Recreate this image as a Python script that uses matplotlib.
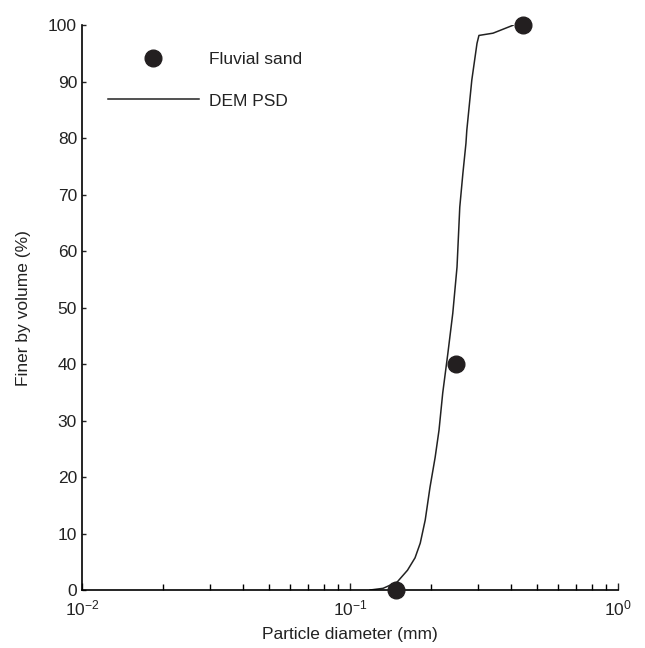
import matplotlib
matplotlib.use('Agg')
import matplotlib.pyplot as plt
from matplotlib.ticker import LogLocator, NullFormatter

plt.rcParams['font.family'] = ['Liberation Sans', 'DejaVu Sans']

# measured sand points
sand_d = [0.149, 0.249, 0.442]
sand_pct = [0, 40, 100]

# DEM particle size distribution
dem_d = [0.119, 0.133, 0.150, 0.164, 0.175, 0.183, 0.191, 0.199, 0.208, 0.215,
         0.222, 0.232, 0.242, 0.251, 0.257, 0.264, 0.271, 0.273, 0.285, 0.298,
         0.303, 0.342, 0.406]
dem_pct = [0.0, 0.3, 1.4, 3.5, 5.7, 8.3, 12.4, 18.2, 23.5, 28.3,
           34.9, 41.9, 49.0, 57.2, 67.8, 73.8, 79.1, 81.4, 90.3, 96.8,
           98.2, 98.6, 100.0]

fig = plt.figure(figsize=(6.45, 6.48), dpi=100)
ax = fig.add_axes([0.127, 0.0895, 0.831, 0.8715])

ax.plot(dem_d, dem_pct, color='#222222', lw=1.1, label='DEM PSD', zorder=2)
ax.plot(sand_d, sand_pct, 'o', color='#231f20', ms=12, label='Fluvial sand',
        clip_on=False, zorder=3)

ax.set_xscale('log')
ax.set_xlim(0.01, 1)
ax.set_ylim(0, 100)
ax.set_yticks(range(0, 101, 10))
ax.xaxis.set_minor_locator(LogLocator(base=10, subs=range(2, 10)))
ax.xaxis.set_minor_formatter(NullFormatter())

for s in ['top', 'right']:
    ax.spines[s].set_visible(False)
ax.spines['left'].set_linewidth(1.2)
ax.spines['bottom'].set_linewidth(1.2)

ax.tick_params(axis='both', which='major', direction='in', labelsize=12.5,
               colors='#222222', length=5, width=1)
ax.tick_params(axis='y', which='major', length=3)
ax.tick_params(axis='x', which='minor', direction='in', length=4, width=1)
ax.tick_params(axis='x', pad=6)

ax.set_xlabel('Particle diameter (mm)', fontsize=12.5, color='#222222', labelpad=6)
ax.set_ylabel('Finer by volume (%)', fontsize=12.5, color='#222222', labelpad=12)

handles, labels = ax.get_legend_handles_labels()
ax.legend(handles[::-1], labels[::-1], loc='upper left', bbox_to_anchor=(0.02, 0.98),
          frameon=False, fontsize=12.5, handlelength=5.2, handletextpad=0.6,
          labelspacing=1.5, labelcolor='#222222')

fig.savefig('out.png', dpi=100)
